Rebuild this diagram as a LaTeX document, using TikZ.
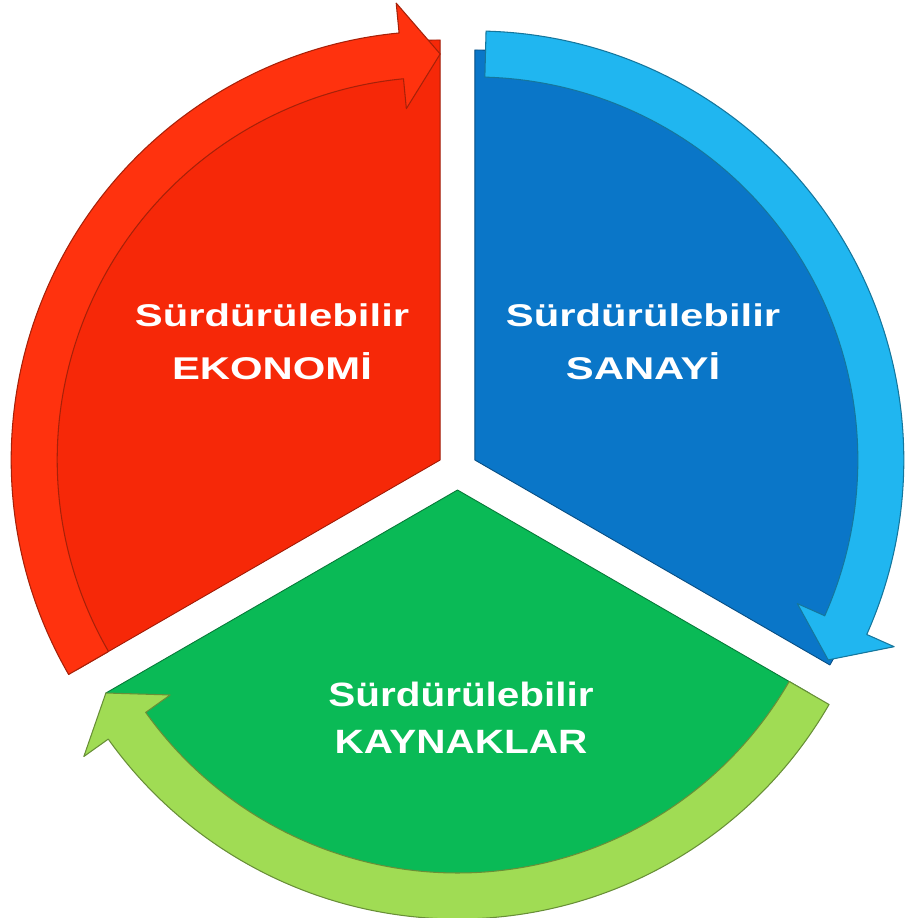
\documentclass[tikz,border=0pt]{standalone}
\usepackage{fontspec}
\setmainfont{Liberation Sans}
\usetikzlibrary{calc}

\definecolor{ekored}{RGB}{246,40,8}
\definecolor{ekoband}{RGB}{255,50,14}
\definecolor{sanblue}{RGB}{10,118,200}
\definecolor{sanband}{RGB}{32,182,240}
\definecolor{kaygreen}{RGB}{10,186,86}
\definecolor{kayband}{RGB}{160,220,84}

\newcommand{\ringarrow}[5]{%
\filldraw[band, fill=#1, draw=#1!65!black] (#3:429) arc[start angle=#3, end angle=#4, radius=429] -- (#4:459) -- (#5:406) -- (#4:353) -- (#4:383) arc[start angle=#4, end angle=#3, radius=383] -- cycle;}

\tikzset{
  slice/.style={line width=0.5pt, line join=round},
  band/.style={line width=0.6pt, line join=round},
  slicetext/.style={text=white, font=\bfseries\fontsize{17.9}{30}\selectfont, align=center, transform shape, xscale=1.33}
}

\begin{document}
\begin{tikzpicture}[x=0.02cm, y=0.02cm]
\useasboundingbox (0,0) rectangle (911,918);

\coordinate (mid) at (457.5,448);
\coordinate (eko) at ($(mid)+(150:20)$);
\coordinate (san) at ($(mid)+(30:20)$);
\coordinate (kay) at ($(mid)+(-90:20)$);

\begin{scope}[shift={(eko)}]
\filldraw[slice, fill=ekored, draw=ekored!65!black] (0,0) -- (210:420) arc[start angle=210, end angle=90, radius=420] -- cycle;
\ringarrow{ekoband}{}{210}{95.5}{90}
\end{scope}

\begin{scope}[shift={(san)}]
\filldraw[slice, fill=sanblue, draw=sanblue!65!black] (0,0) -- (90:410) arc[start angle=90, end angle=-30, radius=410] -- cycle;
\ringarrow{sanband}{}{88.5}{-24}{-29.5}
\end{scope}

\begin{scope}[shift={(kay)}]
\filldraw[slice, fill=kaygreen, draw=kaygreen!65!black] (0,0) -- (-30:406) arc[start angle=-30, end angle=-150, radius=406] -- cycle;
\ringarrow{kayband}{}{-30}{-144.5}{-150}
\end{scope}

\node[slicetext] (ekotext) at (272,576) {Sürdürülebilir\\EKONOMİ};
\node[slicetext] (santext) at (643,576) {Sürdürülebilir\\SANAYİ};
\node[slicetext, font=\bfseries\fontsize{19.2}{26.5}\selectfont, xscale=1.2/1.33] (kaytext) at (461,200) {Sürdürülebilir\\KAYNAKLAR};

\end{tikzpicture}
\end{document}
